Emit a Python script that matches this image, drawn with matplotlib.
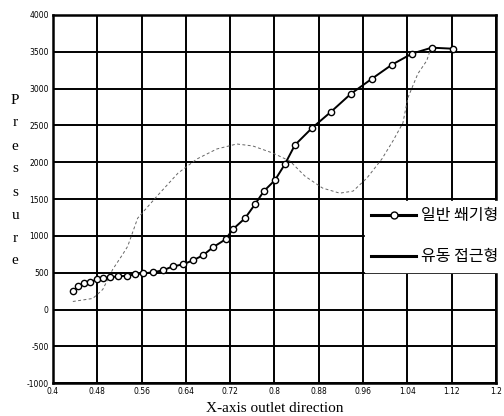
import matplotlib
matplotlib.use("Agg")
import matplotlib.pyplot as plt
from matplotlib.lines import Line2D
import numpy as np

# series 1: 일반 쐐기형 (circles)
x_wedge = [0.436, 0.445, 0.456, 0.467, 0.479, 0.490, 0.503, 0.517, 0.534, 0.548,
           0.562, 0.580, 0.598, 0.617, 0.635, 0.653, 0.671, 0.689, 0.712, 0.725,
           0.747, 0.765, 0.781, 0.801, 0.819, 0.837, 0.868, 0.902, 0.938, 0.976,
           1.012, 1.048, 1.084, 1.122]
p_wedge = [245, 313, 354, 368, 409, 422, 436, 450, 458, 477,
           490, 504, 531, 586, 613, 668, 736, 845, 954, 1090,
           1240, 1430, 1608, 1757, 1975, 2234, 2466, 2684, 2929, 3134,
           3324, 3474, 3556, 3542]

# series 2: 유동 접근형 (thin dashed)
x_flow = [0.436, 0.472, 0.490, 0.508, 0.526, 0.535, 0.553, 0.588, 0.626, 0.660,
          0.696, 0.732, 0.761, 0.797, 0.828, 0.855, 0.887, 0.918, 0.942, 0.967,
          0.994, 1.014, 1.032, 1.041, 1.059, 1.075, 1.081]
p_flow = [109, 150, 272, 545, 749, 858, 1240, 1540, 1853, 2044,
          2180, 2248, 2221, 2125, 2016, 1812, 1649, 1580, 1608, 1785,
          2044, 2289, 2534, 2875, 3202, 3379, 3515]

xticks = [0.4, 0.48, 0.56, 0.64, 0.72, 0.8, 0.88, 0.96, 1.04, 1.12, 1.2]
xticklabels = ["0.4", "0.48", "0.56", "0.64", "0.72", "0.8", "0.88", "0.96", "1.04", "1.12", "1.2"]
yticks = [-1000, -500, 0, 500, 1000, 1500, 2000, 2500, 3000, 3500, 4000]
yticklabels = ["-1000", "-500", "0", "500", "1000", "1500", "2000", "2500", "3000", "3500", "4000"]

labels = ["일반 쐐기형", "유동 접근형"]

fig = plt.figure(figsize=(5.04, 4.16), dpi=100)
ax = fig.add_axes([0.105, 0.079, 0.879, 0.885])

ax.plot(x_flow, p_flow, color="#666666", lw=0.7, ls=(0, (3, 2.5)), zorder=3)
ax.plot(x_wedge, p_wedge, color="black", lw=1.4, marker="o", ms=4.5,
        mfc="white", mec="black", mew=1.0, zorder=4)

ax.set_xlim(0.4, 1.2)
ax.set_ylim(-1000, 4000)
ax.set_xticks(xticks)
ax.set_xticklabels(xticklabels, fontsize=5.5, family="DejaVu Sans")
ax.set_yticks(yticks)
ax.set_yticklabels(yticklabels, fontsize=5.5, family="DejaVu Sans")
ax.tick_params(length=0, pad=3)
ax.grid(True, color="black", lw=1.4)
ax.set_axisbelow(True)
for s in ax.spines.values():
    s.set_linewidth(1.8)

ax.set_xlabel("X-axis outlet direction", family="Liberation Serif", fontsize=11, labelpad=4)

# vertical stacked y label
for i, ch in enumerate("Pressure"):
    fig.text(0.03, 1 - (100 + 23 * i) / 416, ch, family="Liberation Serif",
             fontsize=11, ha="center", va="center")

handles = [Line2D([], [], color="black", lw=2.2, marker="o", ms=5, mfc="white", mec="black"),
           Line2D([], [], color="black", lw=2.2)]
leg = ax.legend(handles, labels, loc="upper left", bbox_to_anchor=(0.704, 0.495),
                prop={"family": ["Noto Sans CJK KR", "DejaVu Sans"], "size": 11.5},
                frameon=True, fancybox=False, framealpha=1, edgecolor="white",
                handlelength=2.8, labelspacing=1.5, borderpad=0.4, handletextpad=0.3,
                borderaxespad=0)
leg.set_zorder(10)
leg.set_clip_on(False)

fig.savefig("out.png", dpi=100)
